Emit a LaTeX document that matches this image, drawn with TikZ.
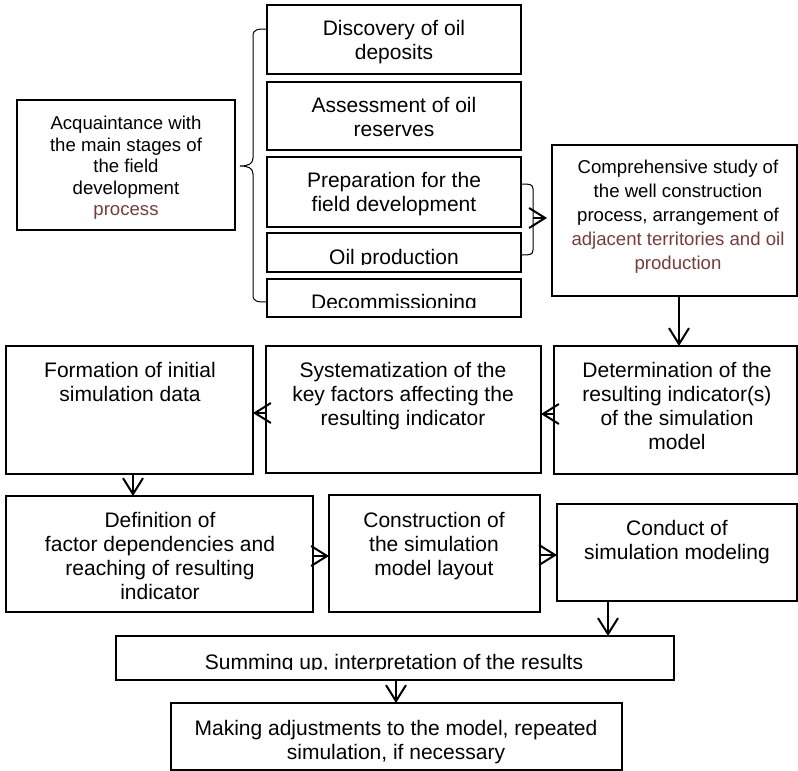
\documentclass[tikz,border=0pt]{standalone}
\usepackage{fontspec}
\setmainfont{Liberation Sans}
\usetikzlibrary{arrows.meta}
\definecolor{brn}{RGB}{122,59,59}
\begin{document}
\begin{tikzpicture}[x=1pt,y=-1pt,
 box/.style={draw, line width=1.6pt, inner sep=0pt, outer sep=0pt, anchor=north west},
 txt/.style={align=center, inner sep=0pt, anchor=north, font=\fontsize{21}{24}\selectfont},
 stxt/.style={align=center, inner sep=0pt, anchor=north, font=\fontsize{18.6}{21.5}\selectfont},
 ctxt/.style={align=center, inner sep=0pt, anchor=north, font=\fontsize{18.6}{24}\selectfont},
 arr/.style={line width=2pt, -{Straight Barb[length=16pt,width=20pt]}},
 brc/.style={line width=1pt}]
\useasboundingbox (0,0) rectangle (798,771);

% boxes
\node[box, minimum width=218pt, minimum height=130pt] (acq) at (17,100) {};
\node[box, minimum width=254pt, minimum height=69pt] (disc) at (267,5) {};
\node[box, minimum width=254pt, minimum height=68pt] (assess) at (267,82) {};
\node[box, minimum width=254pt, minimum height=70pt] (prep) at (267,157) {};
\node[box, minimum width=254pt, minimum height=39pt] (oil) at (267,233) {};
\node[box, minimum width=254pt, minimum height=38pt] (decom) at (267,279) {};
\node[box, minimum width=245pt, minimum height=151pt] (comp) at (552,145) {};
\node[box, minimum width=243pt, minimum height=128pt] (det) at (554,346) {};
\node[box, minimum width=275pt, minimum height=127pt] (sys) at (266,346) {};
\node[box, minimum width=247pt, minimum height=128pt] (form) at (6,346) {};
\node[box, minimum width=307pt, minimum height=116pt] (def) at (6,496) {};
\node[box, minimum width=211pt, minimum height=117pt] (cons) at (329,495) {};
\node[box, minimum width=240pt, minimum height=97pt] (cond) at (557,504) {};
\node[box, minimum width=558pt, minimum height=44pt] (sum) at (116,636) {};
\node[box, minimum width=451pt, minimum height=67pt] (make) at (171,703) {};

% texts
\node[stxt] (acq-t) at (126,114.6) {\strut Acquaintance with\\the main stages of\\the field\\development\\\textcolor{brn}{process}};
\node[txt] (disc-t) at (394,18.7) {\strut Discovery of oil\\deposits};
\node[txt] (assess-t) at (394,95.7) {\strut Assessment of oil\\reserves};
\node[txt] (prep-t) at (394,170.7) {\strut Preparation for the\\field development};
\begin{scope}
\clip (267,233) rectangle (521,264.5);
\node[txt] (oil-t) at (394,247.7) {\strut Oil production};
\end{scope}
\begin{scope}
\clip (267,279) rectangle (521,307.5);
\node[txt] (decom-t) at (394,292.7) {\strut Decommissioning};
\end{scope}
\node[ctxt] (comp-t) at (678,156.9) {\strut Comprehensive study of\\the well construction\\process, arrangement of\\\textcolor{brn}{adjacent territories and oil}\\\textcolor{brn}{production}};
\node[txt] (det-t) at (677,360.7) {\strut Determination of the\\resulting indicator(s)\\of the simulation\\model};
\node[txt] (sys-t) at (403,360.7) {\strut Systematization of the\\key factors affecting the\\resulting indicator};
\node[txt] (form-t) at (130,360.7) {\strut Formation of initial\\simulation data};
\node[txt] (def-t) at (160,510.7) {\strut Definition of\\factor dependencies and\\reaching of resulting\\indicator};
\node[txt] (cons-t) at (434,510.7) {\strut Construction of\\the simulation\\model layout};
\node[txt] (cond-t) at (677,518.7) {\strut Conduct of\\simulation modeling};
\begin{scope}
\clip (116,636) rectangle (674,669);
\node[txt] (sum-t) at (394,652.7) {\strut Summing up, interpretation of the results};
\end{scope}
\node[txt] (make-t) at (396,718.7) {\strut Making adjustments to the model, repeated\\simulation, if necessary};

% braces
\draw[brc] (267,29) .. controls (258,29) and (253,29) .. (253,36) -- (253,158)
  .. controls (253,164) and (248,166) .. (240,166)
  .. controls (248,166) and (253,168) .. (253,174) -- (253,295)
  .. controls (253,302) and (258,302) .. (267,302);
\draw[brc] (522,184) .. controls (529,184) and (533,184) .. (533,189) -- (533,250)
  .. controls (533,255) and (529,255) .. (522,255);
\coordinate (sbr) at (533,218);

% coordinates for connector columns / rows
\coordinate (x679) at (679,0);
\coordinate (x133) at (133,0);
\coordinate (x608) at (608,0);
\coordinate (x396) at (396,0);
\coordinate (y414) at (0,414);
\coordinate (y413) at (0,413);
\coordinate (y556) at (0,556);
\coordinate (y555) at (0,555);

% connectors
\draw[arr] (sbr) -- ([xshift=-5pt]comp.west |- sbr);
\draw[arr] (comp.south -| x679) -- (det.north -| x679);
\draw[arr] (det.west |- y414) -- (sys.east |- y414);
\draw[arr] (sys.west |- y413) -- (form.east |- y413);
\draw[arr] (form.south -| x133) -- (def.north -| x133);
\draw[arr] (def.east |- y556) -- (cons.west |- y556);
\draw[arr] (cons.east |- y555) -- (cond.west |- y555);
\draw[arr] (cond.south -| x608) -- (sum.north -| x608);
\draw[arr] (sum.south -| x396) -- (make.north -| x396);
\end{tikzpicture}
\end{document}
